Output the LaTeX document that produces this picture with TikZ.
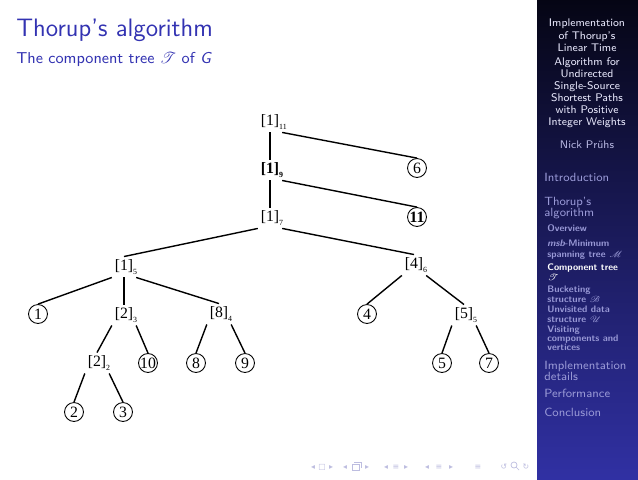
\documentclass[tikz,border=0pt]{standalone}
\usepackage{fontspec}
\usepackage{mathrsfs}
\usepackage{xcolor}
\usepackage{tikz}
\usetikzlibrary{positioning}

\newfontfamily\treefont{Liberation Serif}
\newfontfamily\symfont{DejaVu Sans}

\definecolor{structblue}{rgb}{0.2,0.2,0.7}
\definecolor{sidetop}{rgb}{0.02,0.02,0.08}
\definecolor{sidebot}{rgb}{0.19,0.19,0.64}
\definecolor{navtext}{rgb}{0.60,0.60,0.84}
\definecolor{navsym}{rgb}{0.74,0.74,0.88}

% component label [v]_level, level sticks out to the right
\newcommand{\complabel}[2]{[#1]\rlap{\raisebox{-0.55ex}{\fontsize{4.5}{4.5}\selectfont #2}}}

\tikzset{
  comp/.style={font=\treefont\fontsize{9}{9}\selectfont, inner sep=1.5pt},
  vert/.style={circle, draw, line width=0.5pt, minimum size=10.8pt, inner sep=0pt,
               font=\treefont\fontsize{9}{9}\selectfont},
  heavy/.style={font=\treefont\bfseries\fontsize{9}{9}\selectfont},
  link/.style={line width=0.8pt},
  sidetitle/.style={anchor=mid, inner sep=0pt, text=white!92!blue,
                    font=\sffamily\fontsize{6.3}{6.3}\selectfont},
  navsec/.style={anchor=mid west, inner sep=0pt, text=navtext,
                 font=\sffamily\fontsize{6.8}{6.8}\selectfont},
  navsub/.style={anchor=mid west, inner sep=0pt, text=navtext,
                 font=\sffamily\bfseries\fontsize{5.4}{5.4}\selectfont},
  navicon/.style={anchor=mid, inner sep=0pt, text=navsym,
                  font=\symfont\fontsize{4.5}{4.5}\selectfont},
}

\begin{document}
\begin{tikzpicture}[x=0.2006mm, y=-0.2006mm]
    \fill[white] (0,0) rectangle (638,479);
    \useasboundingbox (0,0) rectangle (638,479);

    % sidebar
    \shade[top color=sidetop, bottom color=sidebot] (537,0) rectangle (638,479);

    % frame title
    \node[anchor=base west, inner sep=0pt, text=structblue,
          font=\sffamily\fontsize{14.4}{14.4}\selectfont] (title) at (16,36) {Thorup's algorithm};
    \node[anchor=base west, inner sep=0pt, text=structblue,
          font=\sffamily\fontsize{9}{9}\selectfont] (subtitle) at (16,63)
          {The component tree $\mathscr{T}$ of \textit{G}};

    % component tree
    \node[comp] (a11) at (270,122) {\complabel{1}{11}};
    \node[comp, heavy] (a9) at (270,170) {\complabel{1}{9}};
    \node[comp] (a7) at (270,218) {\complabel{1}{7}};
    \node[comp] (a5) at (124,267) {\complabel{1}{5}};
    \node[comp] (b6) at (414,265) {\complabel{4}{6}};
    \node[comp] (b3) at (124,315) {\complabel{2}{3}};
    \node[comp] (b4) at (219,314) {\complabel{8}{4}};
    \node[comp] (b2) at (97,363) {\complabel{2}{2}};
    \node[comp] (b5) at (464,315) {\complabel{5}{5}};

    \node[vert] (v6) at (417,168) {6};
    \node[vert, heavy] (v11) at (417,217) {11};
    \node[vert] (v1) at (38,314) {1};
    \node[vert] (v4) at (367,314) {4};
    \node[vert] (v10) at (148,363) {10};
    \node[vert] (v8) at (196,363) {8};
    \node[vert] (v9) at (245,363) {9};
    \node[vert] (v5) at (442,363) {5};
    \node[vert] (v7) at (489,363) {7};
    \node[vert] (v2) at (74,412) {2};
    \node[vert] (v3) at (123,412) {3};

    \foreach \p/\c in {a11.south/a9, a11.south east/v6, a9.south/a7, a9.south east/v11,
                       a7.south west/a5, a7.south east/b6,
                       a5.south west/v1, a5.south/b3, a5.south east/b4,
                       b3.south west/b2, b3.south east/v10,
                       b4.south west/v8, b4.south east/v9,
                       b2.south west/v2, b2.south east/v3,
                       b6.south west/v4, b6.south east/b5,
                       b5.south west/v5, b5.south east/v7}
        \draw[link] (\p) -- (\c.north);

    % sidebar: talk title and author
    \foreach \y/\t [count=\i] in {23/Implementation, 36/of Thorup's, 48/Linear Time,
                                  62/Algorithm for, 74/Undirected, 86/Single-Source,
                                  98/Shortest Paths, 110/with Positive, 122/Integer Weights}
        \node[sidetitle] (tl\i) at (587,\y) {\t};
    \node[sidetitle, text=navtext!70!white] (author) at (587,145) {Nick Prühs};

    % sidebar: sections
    \foreach \y/\t [count=\i] in {178/Introduction, 202/Thorup's, 213/algorithm,
                                  366/Implementation, 377/details,
                                  394/Performance, 413/Conclusion}
        \node[navsec] (sec\i) at (544,\y) {\t};

    % sidebar: subsections
    \foreach \y/\t [count=\i] in {228/Overview, 243/{{\itshape msb}-Minimum},
                                  254/{spanning tree $\mathscr{M}$},
                                  289/Bucketing, 299/{structure $\mathscr{B}$},
                                  309/Unvisited data, 319/{structure $\mathscr{U}$},
                                  329/Visiting, 338/components and, 347/vertices}
        \node[navsub] (sub\i) at (547,\y) {\t};
    \node[navsub, text=white] (cur1) at (547,267) {Component tree};
    \node[navsub, text=white] (cur2) at (547,277) {$\mathscr{T}$};

    % navigation symbols
    \foreach \x/\g [count=\i] in {313/◂, 322/□, 331/▸, 345/◂, 367/▸, 386/◂, 396/≡, 406/▸,
                                  427/◂, 439/≡, 451/▸, 478/≡, 504/↺, 526/↻}
        \node[navicon] (ns\i) at (\x,466) {\g};
    \draw[navsym, line width=0.4pt] (352,464) rectangle (359,470) (354,462) -- (361,462) -- (361,468);
    \draw[navsym, line width=0.4pt] (514,465) circle (3) (516,467) -- (519,470);
\end{tikzpicture}
\end{document}
